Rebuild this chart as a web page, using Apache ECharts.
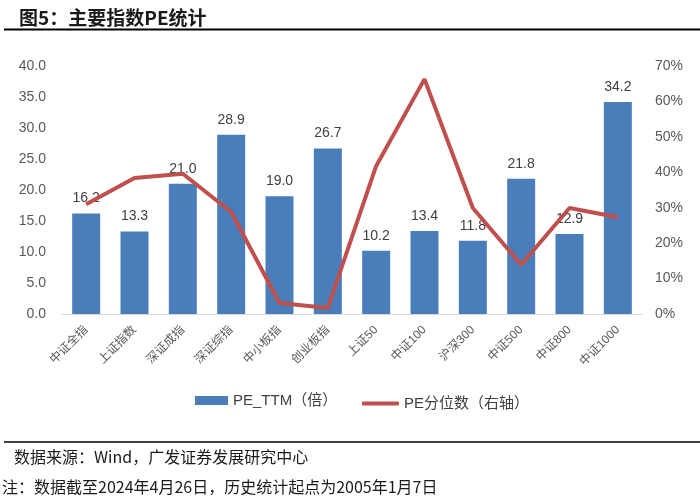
<!DOCTYPE html>
<html><head><meta charset="utf-8">
<script src="https://cdn.jsdelivr.net/npm/echarts@6/dist/echarts.min.js"></script>
<style>html,body{margin:0;padding:0;background:#fff}#c{width:700px;height:498px}</style>
</head><body><div id="c"></div>
<script>
const categories = ['中证全指','上证指数','深证成指','深证综指','中小板指','创业板指','上证50','中证100','沪深300','中证500','中证800','中证1000'];
const peTTM = [16.2,13.3,21.0,28.9,19.0,26.7,10.2,13.4,11.8,21.8,12.9,34.2];
const pePct = [31.0,38.4,39.6,28.8,3.1,1.7,41.8,66.3,29.9,13.9,29.9,27.3];
const leftTicks = {min:0,max:40,interval:5};
const rightTicks = {min:0,max:70,interval:10};
const font = 'Arial, "Liberation Sans", "Noto Sans CJK SC", sans-serif';
const cjk = '"Noto Sans CJK SC", sans-serif';
const chart = echarts.init(document.getElementById('c'));
chart.setOption({
  animation:false,
  textStyle:{fontFamily:font},
  title:{text:'图5：主要指数PE统计',left:14,top:3,textStyle:{fontSize:19,fontWeight:'bold',color:'#1a1a1a',fontFamily:cjk}},
  graphic:[
    {type:'line',shape:{x1:4,y1:29.5,x2:700,y2:29.5},style:{stroke:'#000',lineWidth:2}},
    {type:'line',shape:{x1:4,y1:442,x2:700,y2:442},style:{stroke:'#000',lineWidth:1.5}},
    {type:'text',left:14,top:449,style:{text:'数据来源：Wind，广发证券发展研究中心',fontSize:16,fill:'#1a1a1a',fontFamily:cjk}},
    {type:'text',left:2,top:479,style:{text:'注：数据截至2024年4月26日，历史统计起点为2005年1月7日',fontSize:16,fill:'#1a1a1a',fontFamily:cjk}}
  ],
  legend:[
    {top:388,left:190,itemWidth:33,itemHeight:9,textStyle:{fontSize:15,color:'#404040'},
     data:[{name:'PE_TTM（倍）',icon:'rect'}]},
    {top:391,left:357,itemWidth:37,itemHeight:4,textStyle:{fontSize:15,color:'#404040'},
     data:[{name:'PE分位数（右轴）',icon:'roundRect'}]}
  ],
  grid:{left:62,right:58,top:66,bottom:184},
  xAxis:{type:'category',data:categories,
    axisLine:{lineStyle:{color:'#D9D9D9'}},axisTick:{show:false},
    axisLabel:{rotate:45,fontSize:12,color:'#595959',interval:0,margin:14}},
  yAxis:[
    {type:'value',min:leftTicks.min,max:leftTicks.max,interval:leftTicks.interval,
     splitLine:{show:false},axisLine:{show:false},axisTick:{show:false},
     axisLabel:{fontSize:14,color:'#595959',margin:16,formatter:v=>v.toFixed(1)}},
    {type:'value',min:rightTicks.min,max:rightTicks.max,interval:rightTicks.interval,
     splitLine:{show:false},axisLine:{show:false},axisTick:{show:false},
     axisLabel:{fontSize:14,color:'#595959',margin:13,formatter:v=>v+'%'}}
  ],
  series:[
    {name:'PE_TTM（倍）',type:'bar',data:peTTM,barWidth:28,itemStyle:{color:'#4A7EBB'},
     label:{show:true,position:'top',distance:8,fontSize:14,color:'#404040',formatter:p=>p.value.toFixed(1)}},
    {name:'PE分位数（右轴）',type:'line',yAxisIndex:1,data:pePct,symbol:'none',
     lineStyle:{color:'#C0504D',width:4},itemStyle:{color:'#C0504D'}}
  ]
});
</script></body></html>
